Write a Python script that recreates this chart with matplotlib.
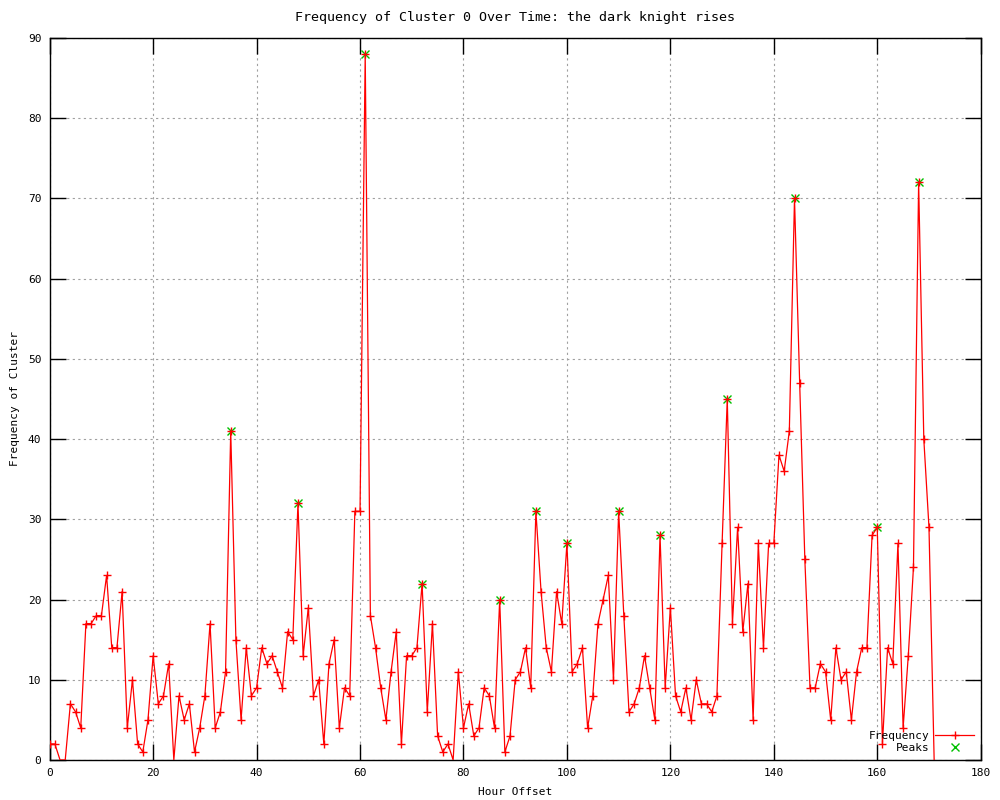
import matplotlib
matplotlib.use("Agg")
import matplotlib.pyplot as plt

# hourly counts for cluster 0 (hours 0..171)
freq = [2, 2, 0, 0, 7, 6, 4, 17, 17, 18, 18, 23, 14, 14, 21, 4, 10, 2, 1, 5,
        13, 7, 8, 12, 0, 8, 5, 7, 1, 4, 8, 17, 4, 6, 11, 41, 15, 5, 14, 8,
        9, 14, 12, 13, 11, 9, 16, 15, 32, 13, 19, 8, 10, 2, 12, 15, 4, 9, 8, 31,
        31, 88, 18, 14, 9, 5, 11, 16, 2, 13, 13, 14, 22, 6, 17, 3, 1, 2, 0, 11,
        4, 7, 3, 4, 9, 8, 4, 20, 1, 3, 10, 11, 14, 9, 31, 21, 14, 11, 21, 17,
        27, 11, 12, 14, 4, 8, 17, 20, 23, 10, 31, 18, 6, 7, 9, 13, 9, 5, 28, 9,
        19, 8, 6, 9, 5, 10, 7, 7, 6, 8, 27, 45, 17, 29, 16, 22, 5, 27, 14, 27,
        27, 38, 36, 41, 70, 47, 25, 9, 9, 12, 11, 5, 14, 10, 11, 5, 11, 14, 14, 28,
        29, 2, 14, 12, 27, 4, 13, 24, 72, 40, 29, 0]
hours = list(range(len(freq)))

peak_hours = [35, 48, 61, 72, 87, 94, 100, 110, 118, 131, 144, 160, 168]
peak_vals = [freq[h] for h in peak_hours]

plt.rcParams['font.family'] = ['DejaVu Sans Mono']
plt.rcParams['font.size'] = 8

fig = plt.figure(figsize=(10, 8), dpi=100)
ax = fig.add_axes([0.0497, 0.05, 0.931, 0.9025])

# gnuplot leaves out the markers sitting on the x axis
shown = [i for i, v in enumerate(freq) if v > 0]

ax.plot(peak_hours, peak_vals, linestyle='none', marker='x', color='#00c000',
        markersize=5.5, markeredgewidth=1.0, label='Peaks', zorder=2)
ax.plot(hours, freq, color='red', linewidth=0.9, marker='+', markersize=5.5,
        markeredgewidth=1.0, markevery=shown, label='Frequency', zorder=3)

ax.set_xlim(0, 180)
ax.set_ylim(0, 90)
ax.set_xticks(range(0, 181, 20))
ax.set_yticks(range(0, 91, 10))
ax.tick_params(direction='in', top=True, right=True, length=11.5, width=1, pad=6)
ax.grid(True, color='#a0a0a0', linestyle=(0, (2, 3)), linewidth=0.8)
for s in ax.spines.values():
    s.set_linewidth(1)

ax.set_title('Frequency of Cluster 0 Over Time: the dark knight rises', pad=12)
ax.set_xlabel('Hour Offset', labelpad=6)
ax.set_ylabel('Frequency of Cluster', labelpad=6)

h, l = ax.get_legend_handles_labels()
ax.legend(h[::-1], l[::-1], loc='lower right', frameon=False, markerfirst=False,
          handlelength=3.5, borderaxespad=0.2, labelspacing=0.2, handletextpad=0.5)

fig.savefig('out.png', dpi=100)
